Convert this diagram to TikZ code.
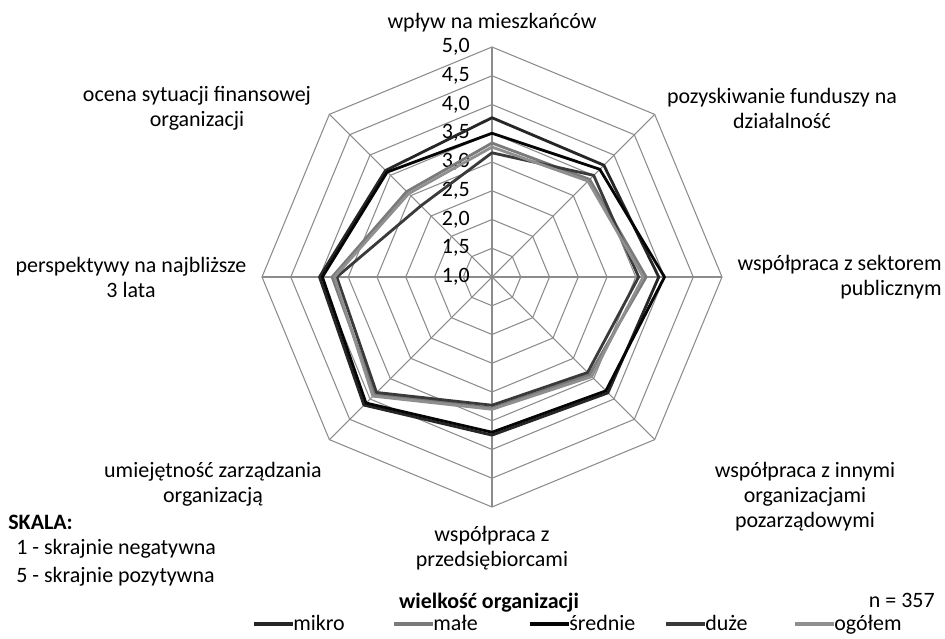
\documentclass[tikz,border=0pt]{standalone}
\usepackage{fontspec}
\setmainfont{Carlito}
\usetikzlibrary{positioning}

\definecolor{gridgray}{HTML}{8C8C8C}
\definecolor{mikrocol}{HTML}{262626}
\definecolor{malecol}{HTML}{7A7A7A}
\definecolor{sredniecol}{HTML}{050505}
\definecolor{duzecol}{HTML}{3A3A3A}
\definecolor{ogolemcol}{HTML}{8F8F8F}

\tikzstyle{grid}=[draw=gridgray,line width=0.6pt]
\tikzstyle{lbl}=[align=center,inner sep=0pt,font=\fontsize{12.5}{14.2}\selectfont]
\tikzstyle{series}=[line width=1.6pt,line join=round]
\tikzstyle{mikro}=[series,draw=mikrocol]
\tikzstyle{male}=[series,draw=malecol]
\tikzstyle{srednie}=[series,draw=sredniecol]
\tikzstyle{duze}=[series,draw=duzecol]
\tikzstyle{ogolem}=[series,draw=ogolemcol]

\begin{document}
\begin{tikzpicture}[x=0.02cm,y=0.02cm]
\fill[white] (0,0) rectangle (945,-638);
\useasboundingbox (0,0) rectangle (945,-638);

\begin{scope}[shift={(492,-277)}]
% rings and axes
\foreach \k in {1,...,8}
  \draw[grid] (0:\k*28.75) \foreach \a in {45,90,...,315}{ -- (\a:\k*28.75)} -- cycle;
\foreach \a in {0,45,...,315}
  \draw[grid] (0,0) -- (\a:230);
\foreach \k/\u/\d in {0/1/0,1/1/5,2/2/0,3/2/5,4/3/0,5/3/5,6/4/0,7/4/5,8/5/0}
  \node (r\k) [lbl,anchor=east] at (-22,\k*28.75) {\u,\d};

% data
\foreach \v [count=\i] in {3.77,3.75,3.90,3.85,3.75,4.15,4.00,3.62}
  \coordinate (mi\i) at ({135-45*\i}:{(\v-1)*57.5});
\foreach \v [count=\i] in {3.33,3.40,3.68,3.40,3.28,3.88,3.78,3.10}
  \coordinate (ma\i) at ({135-45*\i}:{(\v-1)*57.5});
\foreach \v [count=\i] in {3.50,3.65,4.00,3.80,3.70,4.10,3.95,3.58}
  \coordinate (sr\i) at ({135-45*\i}:{(\v-1)*57.5});
\foreach \v [count=\i] in {3.16,3.50,3.55,3.35,3.23,3.84,3.70,2.75}
  \coordinate (du\i) at ({135-45*\i}:{(\v-1)*57.5});
\foreach \v [count=\i] in {3.26,3.36,3.63,3.45,3.30,3.93,3.74,3.05}
  \coordinate (og\i) at ({135-45*\i}:{(\v-1)*57.5});

\draw[mikro] (mi1) -- (mi2) -- (mi3) -- (mi4) -- (mi5) -- (mi6) -- (mi7) -- (mi8) -- cycle;
\draw[male] (ma1) -- (ma2) -- (ma3) -- (ma4) -- (ma5) -- (ma6) -- (ma7) -- (ma8) -- cycle;
\draw[srednie] (sr1) -- (sr2) -- (sr3) -- (sr4) -- (sr5) -- (sr6) -- (sr7) -- (sr8) -- cycle;
\draw[duze] (du1) -- (du2) -- (du3) -- (du4) -- (du5) -- (du6) -- (du7) -- (du8) -- cycle;
\draw[ogolem] (og1) -- (og2) -- (og3) -- (og4) -- (og5) -- (og6) -- (og7) -- (og8) -- cycle;
\end{scope}

% axis labels
\node (wplyw) [lbl] at (492,-23) {wpływ na mieszkańców};
\node (fundusze) [lbl] at (782,-108) {pozyskiwanie funduszy na\\działalność};
\node (sektor) [lbl,align=right,anchor=east] at (942,-277) {współpraca z sektorem\\publicznym};
\node (innymi) [lbl] at (805,-497) {współpraca z innymi\\organizacjami\\pozarządowymi};
\node (przeds) [lbl] at (492,-548) {współpraca z\\przedsiębiorcami};
\node (zarzadz) [lbl] at (213,-484) {umiejętność zarządzania\\organizacją};
\node (perspekt) [lbl] at (131,-277) {perspektywy na najbliższe\\3 lata};
\node (ocena) [lbl] at (197,-108) {ocena sytuacji finansowej\\organizacji};

% scale and legend
\node (skala) [lbl,anchor=west,font=\fontsize{12.5}{14.2}\selectfont\bfseries] at (8,-522) {SKALA:};
\node (skala1) [lbl,anchor=west] at (16,-549) {1 - skrajnie negatywna};
\node (skala5) [lbl,anchor=west] at (16,-577) {5 - skrajnie pozytywna};
\node (tytul) [lbl,font=\fontsize{12.5}{14.2}\selectfont\bfseries] at (489,-603) {wielkość organizacji};
\node (liczba) [lbl,anchor=east] at (935,-600) {n = 357};

\foreach \x/\s/\t in {254/mikro/mikro,394/male/małe,530/srednie/średnie,666/duze/duże,795/ogolem/ogółem}{
  \coordinate (l\s) at (\x,-624);
  \node (t\s) [lbl,anchor=base west] at (\x+39,-630) {\t};
  \draw[\s,line width=1.8pt] (l\s) -- ++(39,0);
}
\end{tikzpicture}
\end{document}
